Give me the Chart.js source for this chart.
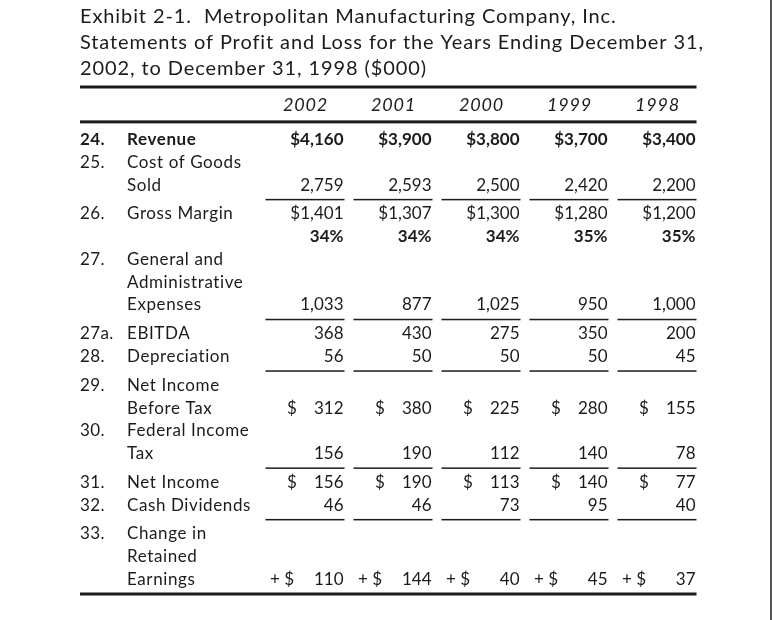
<!DOCTYPE html>
<html>
<head>
<meta charset="utf-8">
<script src="https://cdn.jsdelivr.net/npm/chart.js@4.4.1/dist/chart.umd.min.js"></script>
<style>
  html, body { margin: 0; padding: 0; background: #fff; }
  #tabla { display: block; }
</style>
</head>
<body>
<canvas id="tabla" width="772" height="620"></canvas>
<script>
const titleLines = [
  'Exhibit 2-1.  Metropolitan Manufacturing Company, Inc.',
  'Statements of Profit and Loss for the Years Ending December 31,',
  '2002, to December 31, 1998 ($000)'
];

const years = ['2002', '2001', '2000', '1999', '1998'];

const revenue = [4160, 3900, 3800, 3700, 3400];
const costOfGoodsSold = [2759, 2593, 2500, 2420, 2200];
const grossMargin = [1401, 1307, 1300, 1280, 1200];
const grossMarginPct = [34, 34, 34, 35, 35];
const adminExpenses = [1033, 877, 1025, 950, 1000];
const ebitda = [368, 430, 275, 350, 200];
const depreciation = [56, 50, 50, 50, 45];
const incomeBeforeTax = [312, 380, 225, 280, 155];
const incomeTax = [156, 190, 112, 140, 78];
const netIncome = [156, 190, 113, 140, 77];
const cashDividends = [46, 46, 73, 95, 40];
const retainedChange = [110, 144, 40, 45, 37];

const rowNumbers = ['24.', '25.', '26.', '', '27.', '27a.', '28.', '29.', '30.', '31.', '32.', '33.'];
const rowLabels = [
  ['Revenue'],
  ['Cost of Goods', 'Sold'],
  ['Gross Margin'],
  [''],
  ['General and', 'Administrative', 'Expenses'],
  ['EBITDA'],
  ['Depreciation'],
  ['Net Income', 'Before Tax'],
  ['Federal Income', 'Tax'],
  ['Net Income'],
  ['Cash Dividends'],
  ['Change in', 'Retained', 'Earnings']
];

// estilo de cada fila y si lleva raya debajo
const rows = [
  { values: revenue, style: 'dollarBold', bold: true },
  { values: costOfGoodsSold, style: 'plain', rule: true },
  { values: grossMargin, style: 'dollar' },
  { values: grossMarginPct, style: 'pct' },
  { values: adminExpenses, style: 'plain', rule: true },
  { values: ebitda, style: 'plain' },
  { values: depreciation, style: 'plain', rule: true },
  { values: incomeBeforeTax, style: 'dollarSpaced' },
  { values: incomeTax, style: 'plain', rule: true },
  { values: netIncome, style: 'dollarSpaced' },
  { values: cashDividends, style: 'plain', rule: true },
  { values: retainedChange, style: 'plusDollar' }
].map((r, i) => ({ ...r, num: rowNumbers[i], label: rowLabels[i] }));

// posiciones verticales en "renglones"
const GAP = 0.26;
let pos = 0;
rows.forEach(r => {
  r.lines = r.label.map(() => pos++);
  r.last = r.lines[r.lines.length - 1];
  if (r.rule) pos += GAP;
});
const lastLine = rows[rows.length - 1].last;
const HEADER = -1.49;
const HEADER_RULE = -0.75;
const Y_MIN = -2.28;
const Y_MAX = lastLine + 0.66;

const FONT = 'Lato, "Open Sans", sans-serif';
const INK = '#1b1b1b';
const LEFT = 80;

const fmt = n => n.toLocaleString('en-US');

const tablaPlugin = {
  id: 'tabla',
  afterDraw(chart) {
    const { ctx } = chart;
    const x = chart.scales.x;
    const y = chart.scales.y;

    const text = (s, px, py, align, font, spacing) => {
      ctx.font = font;
      ctx.textAlign = align;
      ctx.letterSpacing = spacing || '0px';
      ctx.fillText(s, px, py + 6);
    };

    ctx.save();
    ctx.fillStyle = INK;
    ctx.strokeStyle = INK;
    ctx.textBaseline = 'alphabetic';

    // titulo
    titleLines.forEach((t, i) => text(t, LEFT, 17 + i * 26, 'left', '20px ' + FONT, '0.9px'));

    // rayas gruesas
    const right = x.getPixelForValue(years.length - 1) + 39.5;
    const thick = py => ctx.fillRect(LEFT, py - 1.5, right - LEFT, 3);
    thick(y.getPixelForValue(Y_MIN));
    thick(y.getPixelForValue(HEADER_RULE));
    thick(y.getPixelForValue(Y_MAX));

    // encabezado de años
    years.forEach((yr, i) => {
      text(yr, x.getPixelForValue(i) + 0.4, y.getPixelForValue(HEADER), 'center', 'italic 18px ' + FONT, '0.8px');
    });

    rows.forEach(r => {
      const labelFont = (r.bold ? 'bold ' : '') + '17px ' + FONT;
      text(r.num, LEFT, y.getPixelForValue(r.lines[0]), 'left', labelFont, '0.4px');
      r.label.forEach((l, j) => {
        text(l, LEFT + 47, y.getPixelForValue(r.lines[j]), 'left', labelFont, '0.6px');
      });
      const py = y.getPixelForValue(r.last);
      r.values.forEach((v, i) => {
        const c = x.getPixelForValue(i);
        const rx = c + 38.5;
        const plainFont = '17px ' + FONT;
        const boldFont = 'bold 17px ' + FONT;
        if (r.style === 'dollarBold') {
          text('$' + fmt(v), rx, py, 'right', boldFont);
        } else if (r.style === 'plain') {
          text(fmt(v), rx, py, 'right', plainFont);
        } else if (r.style === 'dollar') {
          text('$' + fmt(v), rx, py, 'right', plainFont);
        } else if (r.style === 'pct') {
          text(v + '%', rx, py, 'right', boldFont);
        } else if (r.style === 'dollarSpaced') {
          text('$', c - 18, py, 'left', plainFont);
          text(fmt(v), rx, py, 'right', plainFont);
        } else if (r.style === 'plusDollar') {
          text('+ $', c - 35, py, 'left', plainFont);
          text(fmt(v), rx, py, 'right', plainFont);
        }
        if (r.rule) {
          const ry = y.getPixelForValue(r.last + 0.66);
          ctx.fillRect(c - 39.5, ry - 0.75, 79, 1.5);
        }
      });
    });

    // borde derecho
    ctx.fillStyle = '#555';
    ctx.fillRect(chart.width - 2, 0, 2, chart.height);
    ctx.restore();
  }
};

new Chart(document.getElementById('tabla'), {
  type: 'bar',
  data: { labels: years, datasets: [] },
  options: {
    responsive: false,
    animation: false,
    layout: { padding: { left: 261, right: 71, top: 87, bottom: 26 } },
    plugins: { legend: { display: false }, tooltip: { enabled: false }, title: { display: false } },
    scales: {
      x: { type: 'category', display: false, offset: true },
      y: { type: 'linear', display: false, reverse: true, min: Y_MIN, max: Y_MAX }
    }
  },
  plugins: [tablaPlugin]
});
</script>
</body>
</html>
